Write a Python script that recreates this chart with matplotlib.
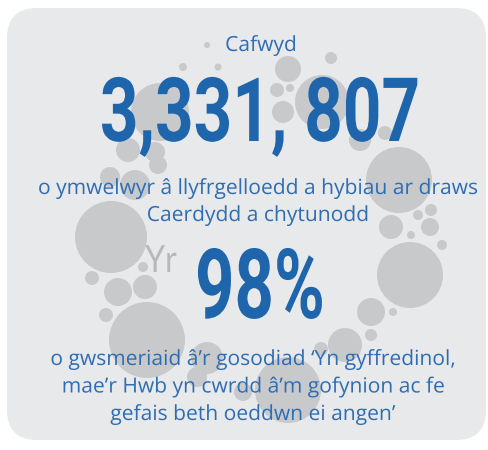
import matplotlib
matplotlib.use("Agg")
import matplotlib.pyplot as plt
from matplotlib import patheffects
from matplotlib.transforms import Affine2D
from matplotlib.patches import FancyBboxPatch, Circle
from matplotlib.textpath import TextPath
from matplotlib.font_manager import FontProperties

# ---- content ----
intro_word = "Cafwyd"
visitors_value = "3,331, 807"
visitors_text = ["o ymwelwyr â llyfrgelloedd a hybiau ar draws",
                 "Caerdydd a chytunodd"]
side_word = "Yr"
agree_value = "98%"
agree_text = ["o gwsmeriaid â’r gosodiad ‘Yn gyffredinol,",
              "mae’r Hwb yn cwrdd â’m gofynion ac fe",
              "gefais beth oeddwn ei angen’"]

# decorative bubbles (x, y, radius) in pixel space
bubble_x = [207, 183, 218, 160, 128, 155, 110, 135, 158, 331, 288, 277, 290, 283, 322,
            360, 385, 399, 418, 431, 391, 430, 411, 442, 410, 371, 393, 345, 371, 321,
            288, 147, 106, 118, 145, 207, 197, 243, 111, 143, 92]
bubble_y = [45, 67, 67, 112, 150, 152, 177, 185, 165, 58, 69, 90, 88, 112, 102,
            140, 133, 180, 215, 210, 227, 227, 235, 245, 275, 312, 312, 345, 335, 349,
            390, 340, 315, 292, 287, 358, 377, 392, 237, 267, 278]
bubble_r = [3, 4, 3.5, 29, 12, 10, 10, 15, 9, 6, 13, 7, 4, 11, 27,
            11, 7, 33, 5, 6, 12, 9, 4, 5, 33, 14, 4, 17, 6, 7,
            33, 38, 7, 14, 12, 16, 10, 9, 36, 5, 7]

W, H = 488, 450
BLUE_TEXT = "#2f6db3"
BLUE_BIG = "#1f65ab"
PANEL = "#e8e9eb"
BUBBLE = "#c8c9cb"


class Stretch(patheffects.AbstractPathEffect):
    """Scale glyph outlines about the text's horizontal centre and baseline."""
    def __init__(self, sx=1.0, sy=1.0):
        super().__init__()
        self.sx, self.sy = sx, sy

    def draw_path(self, renderer, gc, tpath, affine, rgbFace=None):
        ext = tpath.get_extents()
        cx = 0.5 * (ext.x0 + ext.x1)
        pre = Affine2D().translate(-cx, 0).scale(self.sx, self.sy).translate(cx, 0)
        renderer.draw_path(gc, tpath, pre + affine, rgbFace)


fig = plt.figure(figsize=(W / 100, H / 100), dpi=100)
fig.patch.set_facecolor("white")
ax = fig.add_axes([0, 0, 1, 1])
ax.set_xlim(0, W)
ax.set_ylim(H, 0)
ax.set_aspect("equal")
ax.axis("off")

panel = FancyBboxPatch((7, 8), 479, 432, boxstyle="round,pad=0,rounding_size=30",
                       facecolor=PANEL, edgecolor="none", zorder=0)
ax.add_patch(panel)

for x, y, r in zip(bubble_x, bubble_y, bubble_r):
    ax.add_patch(Circle((x, y), r, facecolor=BUBBLE, edgecolor="none", zorder=1))

CX = 258
body_font = dict(family="Open Sans", fontsize=15, color=BLUE_TEXT,
                 ha="center", va="baseline", zorder=3)

t_intro = ax.text(261, 51, intro_word, **body_font)
t_big1 = ax.text(260, 141, visitors_value, family="Roboto", fontweight="bold",
                 fontsize=50, color=BLUE_BIG, ha="center", va="baseline", zorder=3)
body_lines = []
for i, line in enumerate(visitors_text):
    body_lines.append(ax.text(CX, 194 + i * 27, line, **body_font))
t_yr = ax.text(161, 272, side_word, family="Lato", fontsize=27,
               color="#b7b8ba", ha="center", va="baseline", zorder=2)
t_big2 = ax.text(260, 318, agree_value, family="Roboto", fontweight="bold",
                 fontsize=50, color=BLUE_BIG, ha="center", va="baseline", zorder=3)
for i, line in enumerate(agree_text):
    body_lines.append(ax.text(253, 365 + i * 27.5, line, **body_font))

fig.canvas.draw()
rend = fig.canvas.get_renderer()


def width_of(t):
    return t.get_window_extent(rend).width


def fit_big(t, width_px, cap_px):
    # set font size so the width fits, then stretch vertically to the cap height
    fs = t.get_fontsize() * width_px / width_of(t)
    t.set_fontsize(fs)
    fp = FontProperties(family="Roboto", weight="bold")
    cap = TextPath((0, 0), "3", size=fs * 100 / 72, prop=fp).get_extents().height
    t.set_path_effects([Stretch(1.0, cap_px / cap)])


sx_body = 440 / width_of(body_lines[0])
for t in body_lines + [t_intro]:
    t.set_path_effects([Stretch(sx_body, 1.0)])
t_yr.set_path_effects([Stretch(0.85, 1.0)])
fit_big(t_big1, 320, 65)
fit_big(t_big2, 130, 71)

fig.savefig("out.png", dpi=100, facecolor="white")
